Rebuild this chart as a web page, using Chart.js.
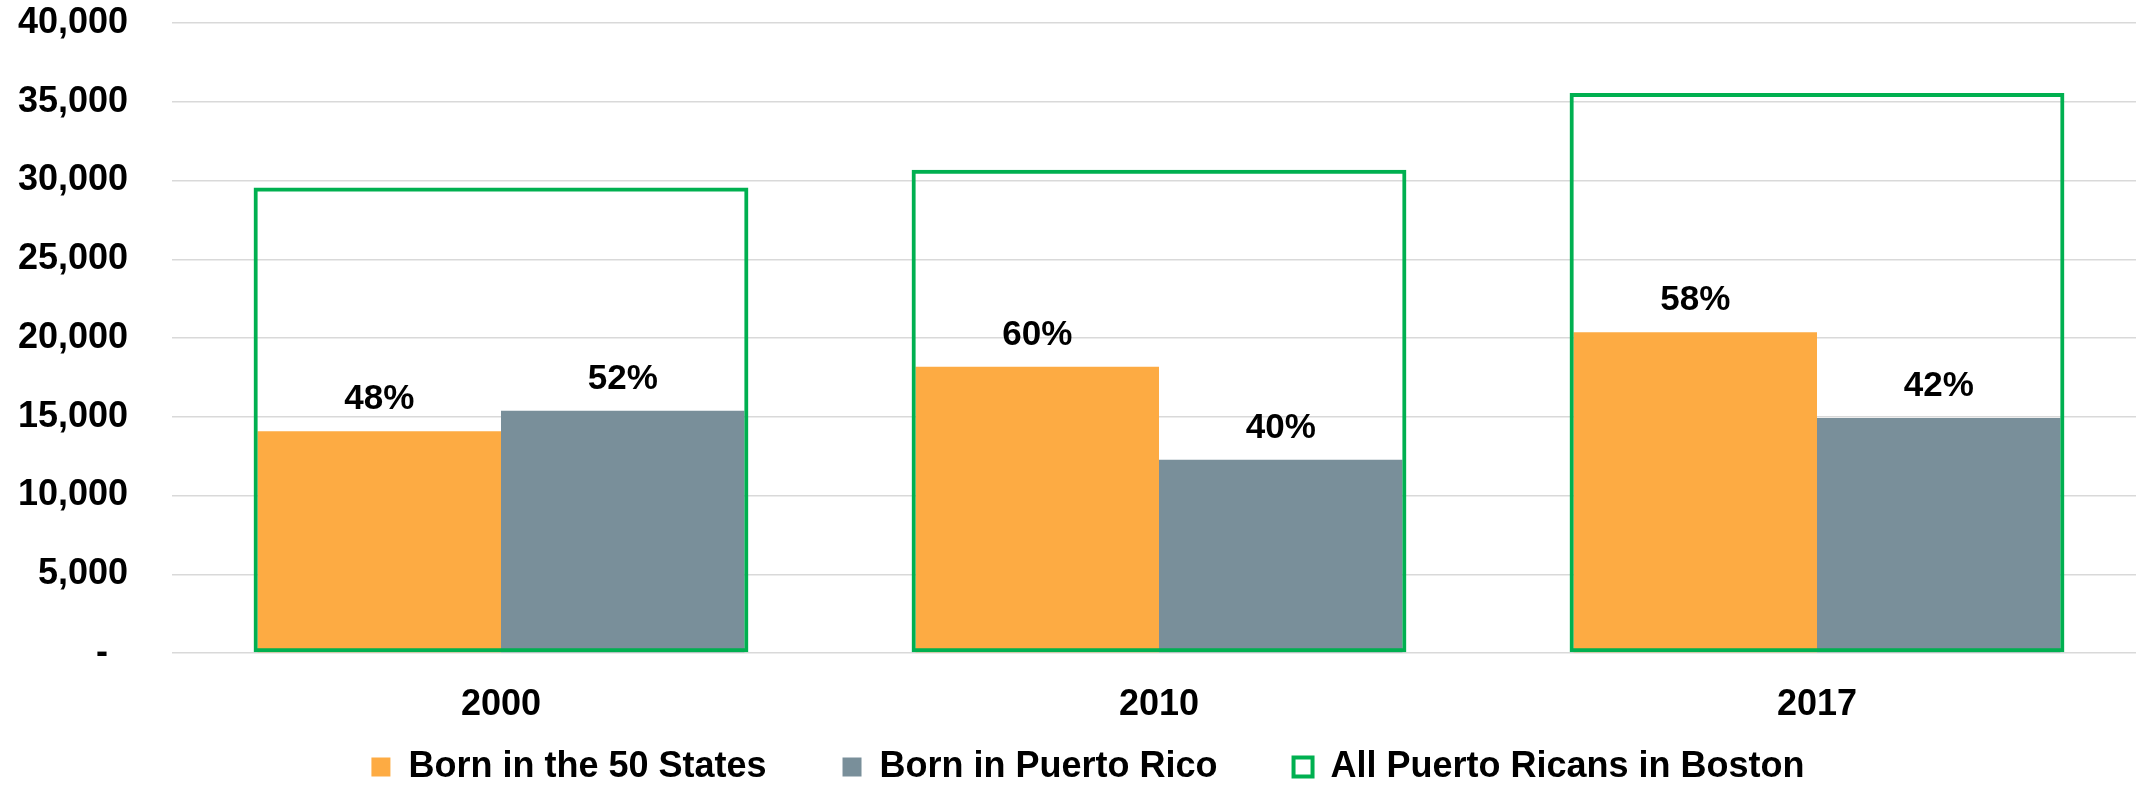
<!DOCTYPE html>
<html>
<head>
<meta charset="utf-8">
<script src="https://cdn.jsdelivr.net/npm/chart.js@4.4.1/dist/chart.umd.min.js"></script>
<style>
    html, body { margin: 0; padding: 0; overflow: hidden; background: #fff; }
    #wrap { position: absolute; left: 0; top: 0; }
</style>
</head>
<body>
<div id="wrap"><canvas id="chart" width="2146" height="795"></canvas></div>
<script>
// Years on the x axis
const years = ['2000', '2010', '2017'];

// Puerto Ricans in Boston by birthplace
const born50States = [14080, 18170, 20360];
const bornPuertoRico = [15380, 12270, 14920];
const allPuertoRicans = [29550, 30680, 35550];

// Share labels shown above each bar
const share50States = ['48%', '60%', '58%'];
const sharePuertoRico = ['52%', '40%', '42%'];

// Y axis tick values
const yTickValues = [0, 5000, 10000, 15000, 20000, 25000, 30000, 35000, 40000];

const FONT = "'Liberation Sans', Arial, sans-serif";
const ORANGE = '#FDAB43';
const GREY = '#798F9A';
const GREEN = '#00B050';

Chart.defaults.font.family = FONT;
Chart.defaults.color = '#000';

// Draw the percentage labels above the orange and grey bars
const shareLabels = {
    id: 'shareLabels',
    afterDatasetsDraw(chart) {
        const ctx = chart.ctx;
        ctx.save();
        ctx.font = 'bold 35px ' + FONT;
        ctx.fillStyle = '#000';
        ctx.textAlign = 'center';
        ctx.textBaseline = 'alphabetic';
        [share50States, sharePuertoRico].forEach((labels, i) => {
            chart.getDatasetMeta(i).data.forEach((bar, j) => {
                ctx.fillText(labels[j], bar.x, bar.y - 22);
            });
        });
        ctx.restore();
    }
};

// Legend sits a bit right of the canvas centre in the original
const legendShift = {
    id: 'legendShift',
    afterLayout(chart) {
        chart.legend.left += 15;
        chart.legend.right += 15;
    }
};

new Chart(document.getElementById('chart'), {
    type: 'bar',
    data: {
        labels: years,
        datasets: [
            {
                label: 'Born in the 50 States',
                data: born50States,
                backgroundColor: ORANGE,
                borderWidth: 0,
                categoryPercentage: 0.74,
                barPercentage: 1
            },
            {
                label: 'Born in Puerto Rico',
                data: bornPuertoRico,
                backgroundColor: GREY,
                borderWidth: 0,
                categoryPercentage: 0.74,
                barPercentage: 1
            },
            {
                // outline box over the two bars
                label: 'All Puerto Ricans in Boston',
                data: allPuertoRicans,
                backgroundColor: 'rgba(0,0,0,0)',
                borderColor: GREEN,
                borderWidth: 4,
                borderSkipped: false,
                grouped: false,
                categoryPercentage: 0.752,
                barPercentage: 1,
                order: -1
            }
        ]
    },
    options: {
        responsive: false,
        animation: false,
        layout: { padding: { top: 23, left: 0, right: 0, bottom: 0 } },
        scales: {
            x: {
                grid: { display: false },
                border: { display: false },
                ticks: { padding: 22, font: { size: 36, weight: 'bold' }, color: '#000' },
                afterFit: (s) => { s.height = 70; }
            },
            y: {
                min: 0,
                max: 40000,
                afterBuildTicks: (s) => { s.ticks = yTickValues.map(v => ({ value: v })); },
                grid: { color: '#d9d9d9', lineWidth: 1.5, drawTicks: false },
                border: { display: false },
                ticks: {
                    padding: 44,
                    font: { size: 36, weight: 'bold' },
                    color: '#000',
                    callback: (v) => v === 0 ? '-  ' : v.toLocaleString('en-US')
                },
                afterFit: (s) => {
                    s.width = 172;
                    s.paddingTop = 0;
                    s.paddingBottom = 0;
                }
            }
        },
        plugins: {
            tooltip: { enabled: false },
            legend: {
                position: 'bottom',
                labels: {
                    boxWidth: 19,
                    boxHeight: 19,
                    padding: 26,
                    color: '#000',
                    font: { size: 36, weight: 'bold' },
                    generateLabels(chart) {
                        const items = Chart.defaults.plugins.legend.labels.generateLabels(chart);
                        items.forEach(item => {
                            if (item.datasetIndex < 2) item.text += '     ';
                        });
                        return items;
                    },
                    sort: (a, b) => a.datasetIndex - b.datasetIndex
                }
            }
        }
    },
    plugins: [shareLabels, legendShift]
});
</script>
</body>
</html>
